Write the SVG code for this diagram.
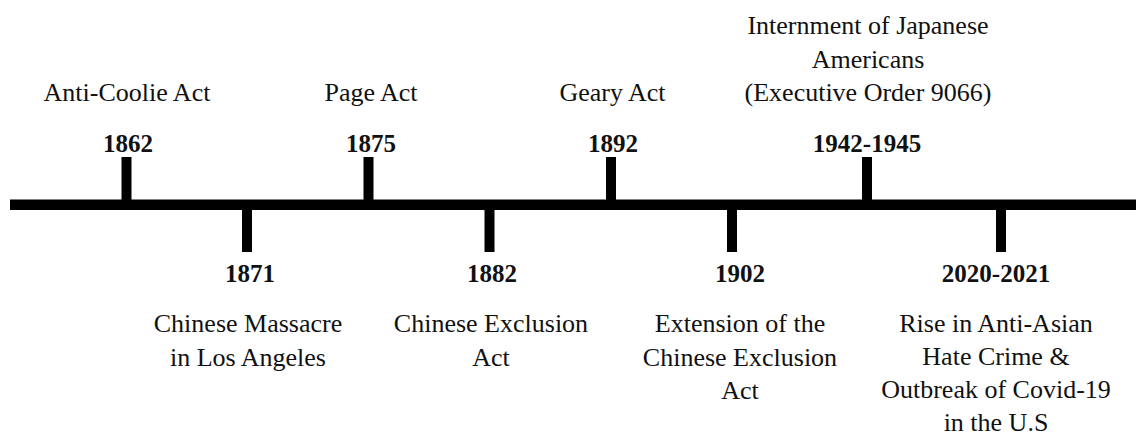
<svg xmlns="http://www.w3.org/2000/svg" width="1136" height="437" viewBox="0 0 1136 437">
<style>
text{font-family:"Liberation Serif",Tinos,"Nimbus Roman","DejaVu Serif",serif;fill:#111;text-anchor:middle}
.yr{font-size:25px;font-weight:bold}
.lb{font-size:26px;font-weight:normal}
.tick{fill:#000}
</style>
<rect width="1136" height="437" fill="#fff"/>
<g id="connectors">
<rect x="10" y="199.5" width="1126" height="10.5" fill="#000"/>
<rect class="tick" x="121.5" y="157" width="10" height="43"/>
<rect class="tick" x="363.5" y="157" width="10" height="43"/>
<rect class="tick" x="606" y="157" width="10" height="43"/>
<rect class="tick" x="862" y="157" width="10" height="43"/>
<rect class="tick" x="242" y="209" width="10" height="43"/>
<rect class="tick" x="484.5" y="209" width="10" height="43"/>
<rect class="tick" x="727" y="209" width="10" height="43"/>
<rect class="tick" x="996" y="209" width="10" height="43"/>
</g>
<g id="n1862">
<text class="lb" x="127" y="101">Anti-Coolie Act</text>
<text class="yr" x="128" y="152">1862</text>
</g>
<g id="n1875">
<text class="lb" x="371" y="101">Page Act</text>
<text class="yr" x="371" y="152">1875</text>
</g>
<g id="n1892">
<text class="lb" x="612.5" y="101">Geary Act</text>
<text class="yr" x="613" y="152">1892</text>
</g>
<g id="n1942">
<text class="lb" x="868" y="33.5">Internment of Japanese</text>
<text class="lb" x="868" y="67.5">Americans</text>
<text class="lb" x="868" y="101">(Executive Order 9066)</text>
<text class="yr" x="867" y="152">1942-1945</text>
</g>
<g id="n1871">
<text class="yr" x="250" y="282">1871</text>
<text class="lb" x="248" y="332">Chinese Massacre</text>
<text class="lb" x="248" y="365.5">in Los Angeles</text>
</g>
<g id="n1882">
<text class="yr" x="492" y="282">1882</text>
<text class="lb" x="491" y="332">Chinese Exclusion</text>
<text class="lb" x="491" y="365.5">Act</text>
</g>
<g id="n1902">
<text class="yr" x="740" y="282">1902</text>
<text class="lb" x="740" y="332">Extension of the</text>
<text class="lb" x="740" y="365.5">Chinese Exclusion</text>
<text class="lb" x="740" y="399">Act</text>
</g>
<g id="n2020">
<text class="yr" x="996" y="282">2020-2021</text>
<text class="lb" x="996" y="332">Rise in Anti-Asian</text>
<text class="lb" x="996" y="365">Hate Crime &amp;</text>
<text class="lb" x="996" y="398">Outbreak of Covid-19</text>
<text class="lb" x="996" y="431">in the U.S</text>
</g>
</svg>
